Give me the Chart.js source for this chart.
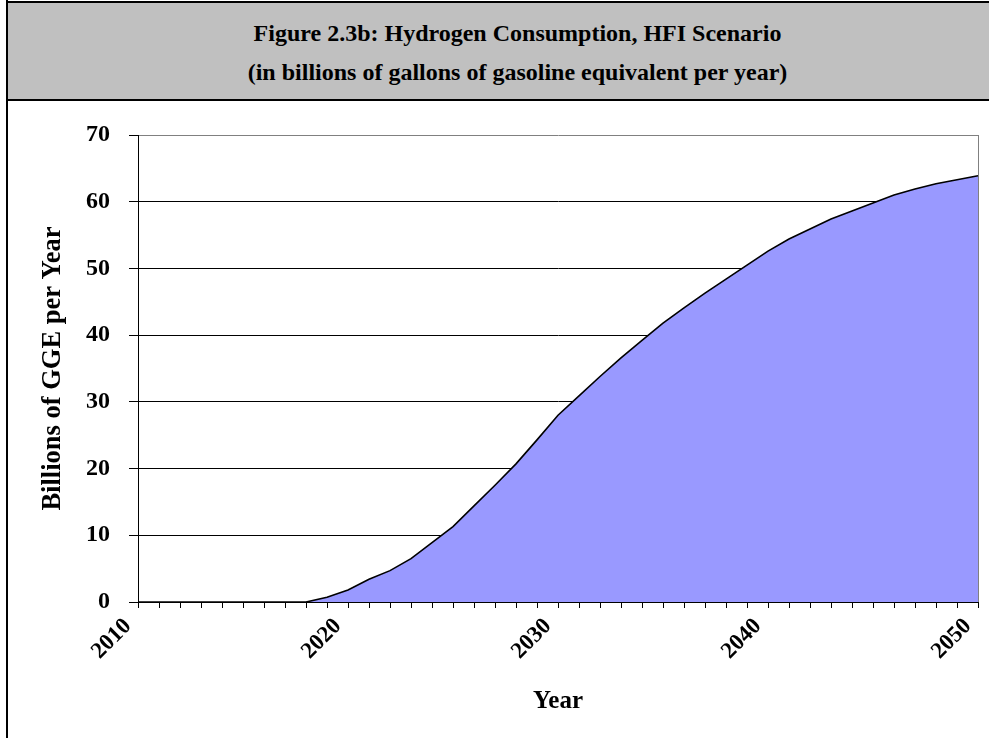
<!DOCTYPE html>
<html>
<head>
<meta charset="utf-8">
<script src="https://cdn.jsdelivr.net/npm/chart.js@4.4.1/dist/chart.umd.min.js"></script>
<style>
  html, body { margin: 0; padding: 0; background: #fff; }
  body { width: 989px; height: 738px; position: relative; overflow: hidden; }
  #frame { position: absolute; left: 6px; top: 0; width: 1100px; height: 800px; border-left: 2px solid #000; box-sizing: border-box; }
  #titlebox {
    position: absolute; left: 6px; top: 1px; width: 1023px; height: 100px;
    background: #C0C0C0; border: 2px solid #000; box-sizing: border-box;
    font-family: "Liberation Serif", "Times New Roman", serif; font-weight: bold;
    font-size: 24px; line-height: 39px; text-align: center; color: #000;
    padding-top: 11px;
  }
  #c { position: absolute; left: 0; top: 0; }
</style>
</head>
<body>
<div id="frame"></div>
<div id="titlebox">Figure 2.3b: Hydrogen Consumption, HFI Scenario<br>(in billions of gallons of gasoline equivalent per year)</div>
<canvas id="c" width="989" height="738"></canvas>
<script>
const years = [2010,2011,2012,2013,2014,2015,2016,2017,2018,2019,2020,2021,2022,2023,2024,2025,2026,2027,2028,2029,2030,2031,2032,2033,2034,2035,2036,2037,2038,2039,2040,2041,2042,2043,2044,2045,2046,2047,2048,2049,2050];
const hydrogenGGE = [0,0,0,0,0,0,0,0,0,0.7,1.8,3.4,4.7,6.5,8.9,11.3,14.4,17.5,20.7,24.3,28.0,30.9,33.8,36.6,39.2,41.8,44.1,46.3,48.4,50.5,52.6,54.4,55.9,57.4,58.6,59.8,61.0,61.9,62.7,63.3,63.9];
const xTickLabels = ["2010","2020","2030","2040","2050"];
const yTicks = [0,10,20,30,40,50,60,70];
const yAxisTitle = "Billions of GGE per Year";
const xAxisTitle = "Year";

const FONT = "'Liberation Serif', 'Times New Roman', serif";

new Chart(document.getElementById('c'), {
  type: 'line',
  data: {
    labels: years.map(String),
    datasets: [{
      data: hydrogenGGE,
      fill: 'origin',
      backgroundColor: '#9999FF',
      borderColor: '#000000',
      borderWidth: 1.6,
      pointRadius: 0,
      tension: 0
    }]
  },
  options: {
    responsive: false,
    animation: false,
    devicePixelRatio: 1,
    plugins: { legend: { display: false }, tooltip: { enabled: false }, title: { display: false } },
    layout: { padding: { left: 0, top: 135, right: 11, bottom: 0 } },
    scales: {
      x: {
        type: 'category',
        offset: false,
        afterFit: (s) => { s.height = 136; s.paddingRight = 0; s.paddingLeft = 0; },
        grid: {
          display: true,
          drawOnChartArea: true,
          color: (ctx) => (ctx.index === years.length - 1 ? '#808080' : 'rgba(0,0,0,0)'),
          tickColor: '#000',
          tickLength: 6,
          lineWidth: 1
        },
        border: { display: true, color: '#000', width: 1 },
        ticks: {
          autoSkip: false,
          maxRotation: 45,
          minRotation: 45,
          padding: 5,
          labelOffset: -10,
          color: '#000',
          font: { family: FONT, weight: 'bold', size: 23 },
          callback: function(v, i) { const l = String(years[i]); return xTickLabels.includes(l) ? l : ''; }
        },
        title: {
          display: true, text: xAxisTitle, color: '#000',
          font: { family: FONT, weight: 'bold', size: 25 },
          padding: { top: 0, bottom: 21 }
        }
      },
      y: {
        min: 0, max: 70,
        afterFit: (s) => { s.width = 138; },
        afterBuildTicks: (s) => { s.ticks = yTicks.map(v => ({ value: v })); },
        grid: {
          color: (ctx) => (ctx.tick && ctx.tick.value === 70 ? '#808080' : '#000'),
          tickColor: '#000',
          tickLength: 9,
          lineWidth: 1
        },
        border: { display: true, color: '#000', width: 1 },
        ticks: {
          stepSize: 10,
          padding: 19,
          color: '#000',
          font: { family: FONT, weight: 'bold', size: 24 }
        },
        title: {
          display: true, text: yAxisTitle, color: '#000',
          font: { family: FONT, weight: 'bold', size: 26.5 },
          padding: { top: 37, bottom: 0 }
        }
      }
    }
  }
});
</script>
</body>
</html>
